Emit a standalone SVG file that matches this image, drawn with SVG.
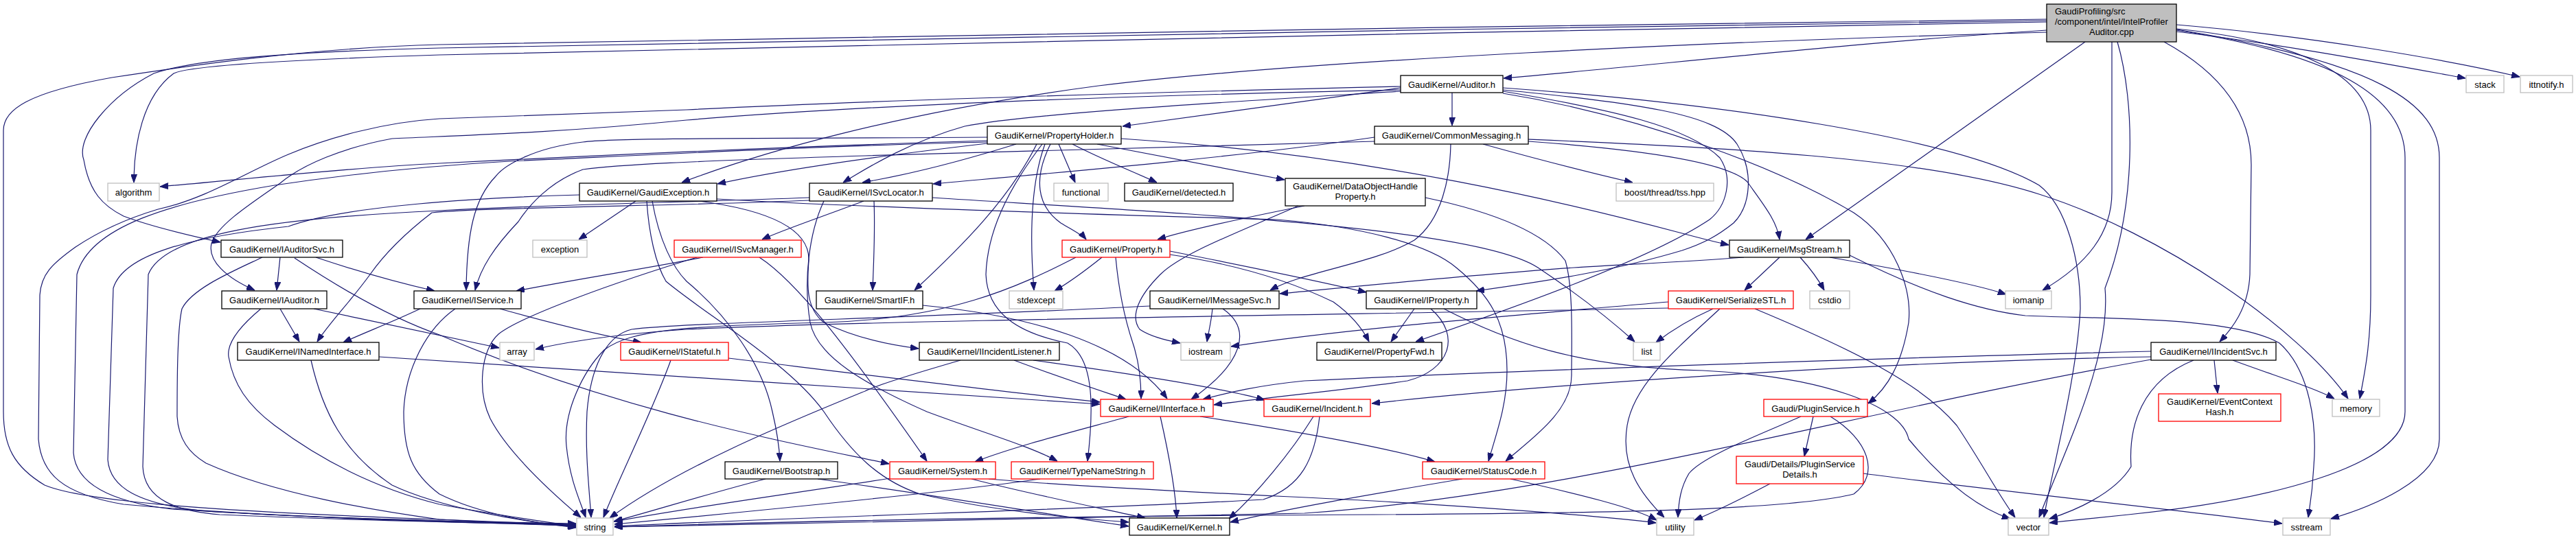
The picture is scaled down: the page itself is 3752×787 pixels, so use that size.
<svg xmlns="http://www.w3.org/2000/svg" width="3752" height="787" viewBox="0 0 3752 787">
<defs>
<marker id="arr" viewBox="0 0 12 9" refX="12" refY="4.5" markerWidth="12" markerHeight="9" markerUnits="userSpaceOnUse" orient="auto"><path d="M0,0 L12,4.5 L0,9 z" fill="#191970" stroke="#191970" stroke-width="1"/></marker>
<style>
.e path{fill:none;stroke:#191970;stroke-width:1.2;marker-end:url(#arr)}
.nb rect{fill:#fff;stroke:#000;stroke-width:1.3}
.nr rect{fill:#fff;stroke:#ff0000;stroke-width:1.3}
.ng rect{fill:#fff;stroke:#bfbfbf;stroke-width:1.3}
.nt rect{fill:#bfbfbf;stroke:#000;stroke-width:1.3}
text{font-family:"Liberation Sans",Arial,Helvetica,sans-serif;font-size:13px;fill:#000;text-anchor:middle}
text.l{text-anchor:start}
</style>
</defs>
<rect x="0" y="0" width="3752" height="787" fill="#fff"/>
<g class="e" id="connectors">
<path d="M2981,44 C2700,62 2400,96 2190,114"/>
<path d="M3170,46 C3320,64 3470,92 3591,114"/>
<path d="M3170,36 C3360,52 3560,86 3670,112"/>
<path d="M2981,32 C2200,46 1000,68 640,80 C420,87 275,96 253,107 C208,140 195,210 195,266"/>
<path d="M2981,30 C2200,40 1000,62 640,70 C400,76 280,88 224,107 C160,140 110,200 122,233 C130,280 150,300 180,315 C220,330 270,342 321,353"/>
<path d="M2981,28 C2200,37 1000,57 640,65 C450,70 280,95 163,113 C40,135 5,160 5,190 L5,600 C5,650 20,680 65,707 C120,730 300,745 640,757 C720,760 790,763 839,765"/>
<path d="M2981,47 C2500,60 1900,88 1600,125 C1300,165 1100,225 993,266"/>
<path d="M3037,61 L2630,349"/>
<path d="M3076,61 L3076,280 C3076,340 3040,385 2975,423"/>
<path d="M3084,61 C3110,150 3112,300 3066,420 C3075,520 3010,650 2970,754"/>
<path d="M3152,61 C3260,120 3279,190 3279,240 L3277,400 C3275,450 3250,480 3233,498"/>
<path d="M3170,42 C3350,60 3453,110 3453,190 L3453,430 C3453,500 3445,540 3437,581"/>
<path d="M3170,43 C3460,90 3553,150 3553,230 L3553,640 C3553,700 3450,740 3395,756"/>
<path d="M3170,44 C3400,80 3503,140 3503,230 L3503,600 C3503,680 3300,730 3100,750 C3050,755 3020,758 2985,762"/>
<path d="M2115,135 L2115,183"/>
<path d="M2040,128 C1900,148 1750,168 1635,184"/>
<path d="M2040,133 C1800,148 1500,165 1405,184 C1330,205 1270,240 1228,266"/>
<path d="M2040,131 C1700,138 1300,150 1000,175 C800,195 650,198 571,202 C500,215 440,240 408,267 C360,300 315,330 308,355 C302,380 330,405 371,423"/>
<path d="M2002,206 C1800,212 1500,220 1260,227 C1000,235 900,240 849,247 C800,265 770,300 755,323 C720,360 700,390 692,423"/>
<path d="M2040,126 C1700,134 1300,145 1000,160 C800,168 700,170 640,173 C560,178 480,200 420,225 C360,250 300,290 230,305 C180,320 140,340 110,360 C75,385 60,400 58,430 L56,640 C60,690 90,720 180,735 C400,755 650,760 839,763"/>
<path d="M2189,131 C2380,150 2500,165 2530,210 C2555,250 2550,300 2525,325 C2500,345 2480,355 2450,365 C2350,395 2250,410 2150,424"/>
<path d="M2189,133 C2350,160 2460,185 2505,230 C2525,260 2515,300 2490,320 C2400,380 2200,450 2062,498"/>
<path d="M2189,128 C2500,150 2850,200 2970,270 C3010,300 3030,380 3030,450 C3025,550 2990,680 2977,754"/>
<path d="M2189,136 C2400,170 2600,250 2700,310 C2760,350 2785,420 2780,470 C2770,530 2750,565 2721,588"/>
<path d="M2160,210 C2250,235 2330,255 2378,266"/>
<path d="M2002,200 C1800,230 1500,255 1359,268"/>
<path d="M2113,210 C2112,260 2100,320 2060,350 C2000,385 1900,395 1850,423"/>
<path d="M2226,206 C2420,220 2520,240 2545,265 C2570,300 2588,322 2592,349"/>
<path d="M2226,203 C2500,215 2800,228 2970,283 C3150,340 3350,480 3420,581"/>
<path d="M1438,205 C1100,215 700,235 640,238 C500,245 350,262 233,272"/>
<path d="M1438,207 C1200,212 900,228 742,235 C620,242 500,255 400,270 C250,295 130,330 112,400 L107,660 C110,700 150,730 250,742 C450,755 650,760 839,764"/>
<path d="M1438,200 C1200,202 900,200 849,207 C780,215 735,240 722,257 C690,290 680,340 679,423"/>
<path d="M1438,209 C1300,225 1150,245 1045,268"/>
<path d="M1480,210 C1400,235 1320,255 1256,266"/>
<path d="M1542,210 L1566,266"/>
<path d="M1562,210 C1600,230 1650,250 1685,266"/>
<path d="M1598,210 C1700,230 1800,248 1871,262"/>
<path d="M1530,210 C1505,260 1510,300 1545,325 C1565,337 1577,343 1582,349"/>
<path d="M1522,210 C1500,270 1500,350 1506,423"/>
<path d="M1518,210 C1465,280 1438,340 1436,400 C1438,455 1480,485 1555,500 C1590,520 1595,580 1584,672"/>
<path d="M1510,210 C1470,290 1400,360 1332,423"/>
<path d="M1633,202 C2000,225 2300,300 2450,340 C2480,348 2495,352 2518,357"/>
<path d="M1258,293 C1200,315 1140,335 1110,349"/>
<path d="M1273,293 C1275,340 1272,390 1271,423"/>
<path d="M1200,293 C1178,340 1170,410 1180,470 C1190,520 1260,560 1350,600 C1430,630 1500,650 1540,672"/>
<path d="M1179,288 C1000,295 800,298 640,307 C400,318 240,340 216,400 L208,680 C210,730 260,745 320,750 C500,758 700,762 839,765"/>
<path d="M1179,292 C1000,300 700,302 629,310 C590,340 560,370 539,400 C510,440 480,470 462,498"/>
<path d="M1358,288 C1700,310 2150,330 2240,390 C2300,430 2350,470 2381,498"/>
<path d="M926,293 L843,349"/>
<path d="M844,284 C700,288 500,300 420,330 C280,345 180,370 165,420 L157,670 C160,710 200,735 300,745 C500,757 700,762 839,766"/>
<path d="M942,293 C945,340 955,385 970,410 C1030,460 1150,530 1200,600 C1240,660 1280,700 1340,720 C1450,745 1560,755 1644,761"/>
<path d="M950,293 C960,350 980,390 1000,410 C1060,460 1110,530 1125,600 C1132,630 1135,650 1136,672"/>
<path d="M1018,293 C1110,305 1180,330 1178,380 C1175,420 1175,450 1200,470 C1240,490 1290,502 1338,508"/>
<path d="M1044,290 C1300,305 1700,315 1860,320 C1980,330 2080,355 2121,390 C2170,430 2195,470 2195,540 C2195,590 2180,630 2168,672"/>
<path d="M408,375 L403,423"/>
<path d="M460,375 C520,395 580,412 633,424"/>
<path d="M382,375 C340,395 280,420 265,450 C258,480 258,560 258,607 C260,640 275,660 300,675 C400,720 550,745 640,757 C740,762 800,765 839,767"/>
<path d="M429,376 C480,410 560,460 640,488 C900,600 1150,645 1295,676"/>
<path d="M457,450 C550,470 650,490 727,507"/>
<path d="M408,450 L436,498"/>
<path d="M380,450 C350,475 330,500 333,520 C340,560 360,590 400,620 C480,680 560,715 640,735 C720,750 790,760 839,767"/>
<path d="M453,525 C470,600 500,660 571,707 C640,740 760,760 839,768"/>
<path d="M552,520 C800,535 1300,570 1602,589"/>
<path d="M728,450 C800,470 880,490 934,499"/>
<path d="M612,450 C570,470 530,485 500,499"/>
<path d="M663,450 C620,480 590,540 588,600 C588,660 600,690 640,720 C700,750 780,762 839,769"/>
<path d="M1024,375 C950,390 850,405 752,424"/>
<path d="M1015,375 C900,410 760,460 726,487 C700,510 695,570 714,610 C740,660 800,715 846,754"/>
<path d="M1106,375 C1160,410 1230,500 1350,672"/>
<path d="M977,525 C950,600 900,700 879,754"/>
<path d="M1061,522 C1250,545 1450,570 1602,586"/>
<path d="M1477,525 C1530,545 1590,565 1640,582"/>
<path d="M1505,525 C1650,545 1780,565 1842,583"/>
<path d="M1399,525 C1330,545 1280,560 1260,570 C1150,615 990,680 888,755"/>
<path d="M1344,445 C1500,460 1640,500 1700,581"/>
<path d="M1605,375 C1580,395 1560,410 1536,424"/>
<path d="M1567,375 C1480,420 1380,465 1200,470 C1000,475 920,480 880,510 C850,540 820,600 825,650 C830,700 845,730 853,754"/>
<path d="M1625,375 C1630,430 1640,470 1650,500 C1660,530 1662,560 1662,581"/>
<path d="M1704,366 C1800,385 1900,405 1990,426"/>
<path d="M1704,371 C1800,385 1880,410 1942,440 C1970,460 1985,480 1994,498"/>
<path d="M1900,300 C1800,320 1730,335 1686,349"/>
<path d="M1891,300 C1800,340 1720,370 1690,400 C1660,430 1645,460 1660,480 C1675,490 1695,495 1719,500"/>
<path d="M2076,288 C2180,310 2250,340 2280,380 C2292,420 2289,500 2289,547 C2289,600 2230,640 2193,672"/>
<path d="M1766,450 C1764,470 1760,485 1758,498"/>
<path d="M1781,450 C1825,480 1810,530 1735,582"/>
<path d="M1675,446 C1300,465 1000,470 920,480 C880,490 860,540 855,600 C852,660 858,710 861,754"/>
<path d="M2540,375 C2450,382 2350,386 2293,390 C2150,400 2000,415 1864,428"/>
<path d="M2592,375 L2541,423"/>
<path d="M2622,375 C2640,395 2650,410 2657,423"/>
<path d="M2665,375 C2780,395 2880,415 2922,429"/>
<path d="M2694,372 C2800,425 2880,452 2950,460 C3050,465 3250,460 3320,500 C3365,540 3375,620 3370,680 C3368,720 3364,740 3362,754"/>
<path d="M2430,440 C2200,460 1950,480 1793,505"/>
<path d="M2495,450 C2455,468 2430,485 2412,499"/>
<path d="M2505,450 C2440,510 2380,560 2370,620 C2360,680 2390,720 2424,754"/>
<path d="M2556,450 C2700,510 2800,560 2850,620 C2890,680 2910,720 2935,754"/>
<path d="M2430,449 C2000,458 1300,466 1000,480 C900,487 830,497 780,509"/>
<path d="M2060,450 L2026,498"/>
<path d="M2084,450 C2130,490 2110,540 2050,555 C1950,570 1850,578 1768,590"/>
<path d="M2103,450 C2200,500 2300,535 2480,540 C2650,548 2770,590 2780,640 C2830,700 2880,740 2928,756"/>
<path d="M1913,607 C1880,660 1830,720 1790,756"/>
<path d="M1922,607 C1915,670 1895,710 1840,728 C1600,742 1200,752 895,767"/>
<path d="M3225,525 L3230,573"/>
<path d="M3252,525 C3320,550 3370,565 3400,581"/>
<path d="M3133,512 C2800,520 2200,540 1900,555 C1830,562 1790,572 1752,582"/>
<path d="M3133,520 C2700,528 2200,565 1998,588"/>
<path d="M3195,525 C3120,555 3100,620 3104,680 C3080,720 3020,745 2985,756"/>
<path d="M3133,524 C2700,600 2300,720 1900,748 C1500,758 1100,763 895,768"/>
<path d="M2641,607 L2628,665"/>
<path d="M2623,607 C2560,635 2480,665 2460,690 C2448,710 2445,730 2444,754"/>
<path d="M2666,607 C2720,640 2740,690 2700,720 C2600,745 2300,748 2000,750 C1600,752 1200,758 895,768"/>
<path d="M2714,690 C2900,715 3150,740 3324,763"/>
<path d="M2578,705 C2540,725 2500,745 2468,758"/>
<path d="M2130,698 C2000,720 1880,740 1792,761"/>
<path d="M2200,698 C2300,720 2380,740 2413,758"/>
<path d="M1748,607 C1900,630 2030,655 2090,673"/>
<path d="M1690,607 C1702,660 1712,710 1714,755"/>
<path d="M1644,607 C1560,630 1480,650 1420,673"/>
<path d="M1415,698 C1500,720 1600,740 1668,755"/>
<path d="M1297,697 C1150,720 1000,740 895,760"/>
<path d="M1440,698 C1600,712 1850,722 2000,730 C2200,742 2330,752 2412,762"/>
<path d="M1515,698 C1400,715 1100,745 895,764"/>
<path d="M1115,698 C1030,720 950,745 894,760"/>
<path d="M1191,698 C1350,720 1500,745 1644,767"/>
</g>
<g id="n_top" class="nt"><rect x="2981" y="6" width="189" height="55"/><text class="l" x="2993" y="21">GaudiProfiling/src</text><text class="l" x="2993" y="36">/component/intel/IntelProfiler</text><text x="3075.5" y="51">Auditor.cpp</text></g>
<g id="n_auditor" class="nb"><rect x="2040" y="110" width="149" height="25"/><text x="2114.5" y="127.5">GaudiKernel/Auditor.h</text></g>
<g id="n_stack" class="ng"><rect x="3592" y="110" width="55" height="25"/><text x="3619.5" y="127.5">stack</text></g>
<g id="n_ittnotify" class="ng"><rect x="3671" y="110" width="76" height="25"/><text x="3709" y="127.5">ittnotify.h</text></g>
<g id="n_propertyholder" class="nb"><rect x="1438" y="184" width="195" height="26"/><text x="1535.5" y="201.5">GaudiKernel/PropertyHolder.h</text></g>
<g id="n_commonmessaging" class="nb"><rect x="2002" y="184" width="224" height="26"/><text x="2114" y="201.5">GaudiKernel/CommonMessaging.h</text></g>
<g id="n_algorithm" class="ng"><rect x="157" y="267" width="75" height="26"/><text x="194.5" y="284.5">algorithm</text></g>
<g id="n_gaudiexception" class="nb"><rect x="844" y="267" width="200" height="26"/><text x="944" y="284.5">GaudiKernel/GaudiException.h</text></g>
<g id="n_isvclocator" class="nb"><rect x="1179" y="267" width="179" height="26"/><text x="1268.5" y="284.5">GaudiKernel/ISvcLocator.h</text></g>
<g id="n_functional" class="ng"><rect x="1535" y="267" width="79" height="26"/><text x="1574.5" y="284.5">functional</text></g>
<g id="n_detected" class="nb"><rect x="1638" y="267" width="158" height="26"/><text x="1717" y="284.5">GaudiKernel/detected.h</text></g>
<g id="n_dataobjecthandleproperty" class="nb"><rect x="1872" y="260" width="204" height="40"/><text x="1974" y="276">GaudiKernel/DataObjectHandle</text><text x="1974" y="291">Property.h</text></g>
<g id="n_boost_tss" class="ng"><rect x="2354" y="267" width="142" height="26"/><text x="2425" y="284.5">boost/thread/tss.hpp</text></g>
<g id="n_iauditorsvc" class="nb"><rect x="322" y="350" width="177" height="25"/><text x="410.5" y="367.5">GaudiKernel/IAuditorSvc.h</text></g>
<g id="n_exception" class="ng"><rect x="776" y="350" width="79" height="25"/><text x="815.5" y="367.5">exception</text></g>
<g id="n_isvcmanager" class="nr"><rect x="982" y="350" width="185" height="25"/><text x="1074.5" y="367.5">GaudiKernel/ISvcManager.h</text></g>
<g id="n_property" class="nr"><rect x="1547" y="350" width="157" height="25"/><text x="1625.5" y="367.5">GaudiKernel/Property.h</text></g>
<g id="n_msgstream" class="nb"><rect x="2519" y="350" width="175" height="25"/><text x="2606.5" y="367.5">GaudiKernel/MsgStream.h</text></g>
<g id="n_iauditor" class="nb"><rect x="323" y="424" width="153" height="26"/><text x="399.5" y="441.5">GaudiKernel/IAuditor.h</text></g>
<g id="n_iservice" class="nb"><rect x="603" y="424" width="156" height="26"/><text x="681" y="441.5">GaudiKernel/IService.h</text></g>
<g id="n_smartif" class="nb"><rect x="1189" y="424" width="155" height="26"/><text x="1266.5" y="441.5">GaudiKernel/SmartIF.h</text></g>
<g id="n_stdexcept" class="ng"><rect x="1470" y="424" width="78" height="26"/><text x="1509" y="441.5">stdexcept</text></g>
<g id="n_imessagesvc" class="nb"><rect x="1675" y="424" width="188" height="26"/><text x="1769" y="441.5">GaudiKernel/IMessageSvc.h</text></g>
<g id="n_iproperty" class="nb"><rect x="1990" y="424" width="161" height="26"/><text x="2070.5" y="441.5">GaudiKernel/IProperty.h</text></g>
<g id="n_serializestl" class="nr"><rect x="2430" y="424" width="182" height="26"/><text x="2521" y="441.5">GaudiKernel/SerializeSTL.h</text></g>
<g id="n_cstdio" class="ng"><rect x="2636" y="424" width="58" height="26"/><text x="2665" y="441.5">cstdio</text></g>
<g id="n_iomanip" class="ng"><rect x="2921" y="424" width="67" height="26"/><text x="2954.5" y="441.5">iomanip</text></g>
<g id="n_inamedinterface" class="nb"><rect x="346" y="499" width="206" height="26"/><text x="449" y="516.5">GaudiKernel/INamedInterface.h</text></g>
<g id="n_array" class="ng"><rect x="728" y="499" width="50" height="26"/><text x="753" y="516.5">array</text></g>
<g id="n_istateful" class="nr"><rect x="904" y="499" width="157" height="26"/><text x="982.5" y="516.5">GaudiKernel/IStateful.h</text></g>
<g id="n_iincidentlistener" class="nb"><rect x="1339" y="499" width="204" height="26"/><text x="1441" y="516.5">GaudiKernel/IIncidentListener.h</text></g>
<g id="n_iostream" class="ng"><rect x="1720" y="499" width="72" height="26"/><text x="1756" y="516.5">iostream</text></g>
<g id="n_propertyfwd" class="nb"><rect x="1918" y="499" width="182" height="26"/><text x="2009" y="516.5">GaudiKernel/PropertyFwd.h</text></g>
<g id="n_list" class="ng"><rect x="2379" y="499" width="39" height="26"/><text x="2398.5" y="516.5">list</text></g>
<g id="n_iincidentsvc" class="nb"><rect x="3133" y="499" width="182" height="26"/><text x="3224" y="516.5">GaudiKernel/IIncidentSvc.h</text></g>
<g id="n_iinterface" class="nr"><rect x="1603" y="582" width="164" height="25"/><text x="1685" y="599.5">GaudiKernel/IInterface.h</text></g>
<g id="n_incident" class="nr"><rect x="1841" y="582" width="155" height="25"/><text x="1918.5" y="599.5">GaudiKernel/Incident.h</text></g>
<g id="n_pluginservice" class="nr"><rect x="2569" y="582" width="151" height="25"/><text x="2644.5" y="599.5">Gaudi/PluginService.h</text></g>
<g id="n_eventcontexthash" class="nr"><rect x="3144" y="574" width="178" height="40"/><text x="3233" y="590">GaudiKernel/EventContext</text><text x="3233" y="605">Hash.h</text></g>
<g id="n_memory" class="ng"><rect x="3397" y="582" width="69" height="25"/><text x="3431.5" y="599.5">memory</text></g>
<g id="n_bootstrap" class="nb"><rect x="1056" y="673" width="164" height="25"/><text x="1138" y="690.5">GaudiKernel/Bootstrap.h</text></g>
<g id="n_system" class="nr"><rect x="1296" y="673" width="154" height="25"/><text x="1373" y="690.5">GaudiKernel/System.h</text></g>
<g id="n_typenamestring" class="nr"><rect x="1473" y="673" width="207" height="25"/><text x="1576.5" y="690.5">GaudiKernel/TypeNameString.h</text></g>
<g id="n_statuscode" class="nr"><rect x="2072" y="673" width="178" height="25"/><text x="2161" y="690.5">GaudiKernel/StatusCode.h</text></g>
<g id="n_pluginservicedetails" class="nr"><rect x="2529" y="665" width="185" height="40"/><text x="2621.5" y="681">Gaudi/Details/PluginService</text><text x="2621.5" y="696">Details.h</text></g>
<g id="n_string" class="ng"><rect x="840" y="755" width="53" height="25"/><text x="866.5" y="772.5">string</text></g>
<g id="n_kernel" class="nb"><rect x="1645" y="755" width="146" height="25"/><text x="1718" y="772.5">GaudiKernel/Kernel.h</text></g>
<g id="n_utility" class="ng"><rect x="2413" y="755" width="54" height="25"/><text x="2440" y="772.5">utility</text></g>
<g id="n_vector" class="ng"><rect x="2925" y="755" width="59" height="25"/><text x="2954.5" y="772.5">vector</text></g>
<g id="n_sstream" class="ng"><rect x="3325" y="755" width="69" height="25"/><text x="3359.5" y="772.5">sstream</text></g>
</svg>
